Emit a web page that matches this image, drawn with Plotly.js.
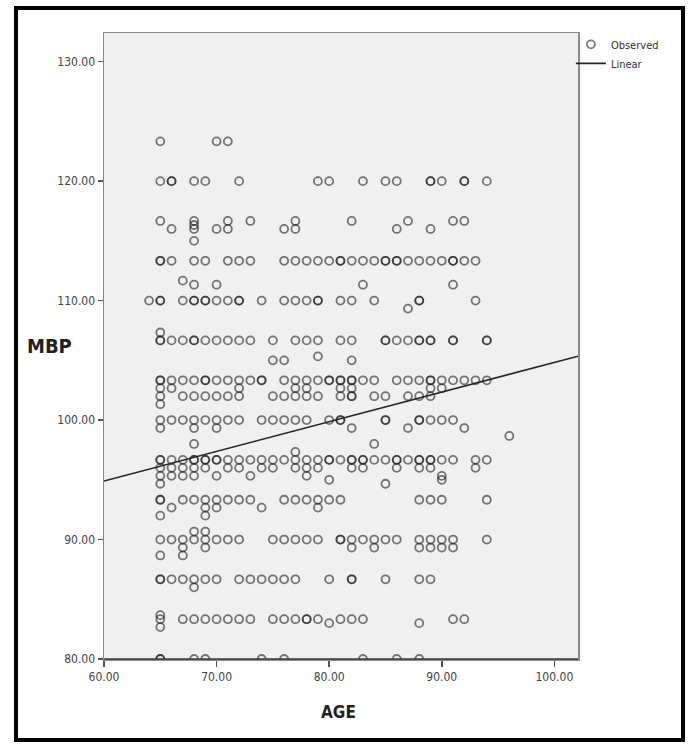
<!DOCTYPE html>
<html>
<head>
<meta charset="utf-8">
<script src="https://cdn.plot.ly/plotly-3.0.1.min.js"></script>
<style>
  html, body { margin: 0; padding: 0; background: #ffffff; }
  #wrap { position: relative; width: 689px; height: 744px; overflow: hidden; background: #ffffff; }
  #frame { position: absolute; left: 14px; top: 6px; width: 663px; height: 728px; border: 4px solid #000; background: #fff; }
  #chart { position: absolute; left: 0; top: 0; width: 689px; height: 744px; }
</style>
</head>
<body>
<div id="wrap">
  <div id="frame"></div>
  <div id="chart"></div>
</div>
<script>
// ---- Observed data: AGE values recorded at each MBP level ----
const ageAt123_33 = [65, 70, 71];
const ageAt120_00 = [65, 66, 66, 68, 69, 72, 79, 80, 83, 85, 86, 89, 89, 90, 92, 92, 94];
const ageAt116_67 = [65, 68, 71, 73, 77, 82, 87, 91, 92];
const ageAt116_33 = [68];
const ageAt116_00 = [66, 68, 70, 71, 76, 77, 86, 89];
const ageAt115_00 = [68];
const ageAt113_33 = [65, 65, 66, 68, 69, 71, 72, 73, 76, 77, 78, 79, 80, 81, 81, 82, 83, 84, 85, 85, 86, 86, 87, 88, 89, 90, 91, 91, 92, 93];
const ageAt111_67 = [67];
const ageAt111_33 = [68, 70, 83, 91];
const ageAt110_00 = [64, 65, 65, 67, 68, 68, 69, 69, 70, 71, 72, 72, 74, 76, 77, 78, 79, 79, 81, 82, 84, 88, 88, 93];
const ageAt109_33 = [87];
const ageAt107_33 = [65];
const ageAt106_67 = [65, 65, 66, 67, 68, 68, 69, 70, 71, 72, 73, 75, 77, 78, 79, 81, 82, 85, 85, 86, 87, 88, 88, 89, 89, 91, 91, 94, 94];
const ageAt105_33 = [79];
const ageAt105_00 = [75, 76, 82];
const ageAt103_33 = [65, 65, 66, 67, 68, 69, 69, 70, 71, 72, 73, 74, 74, 76, 77, 78, 79, 80, 80, 81, 81, 82, 82, 83, 84, 86, 87, 88, 89, 89, 90, 91, 92, 93, 94];
const ageAt102_67 = [65, 66, 72, 77, 78, 81, 82, 89, 90];
const ageAt102_00 = [65, 67, 68, 69, 70, 71, 72, 75, 76, 77, 78, 79, 81, 82, 82, 84, 85, 87, 88, 89];
const ageAt101_33 = [65];
const ageAt100_00 = [65, 66, 67, 68, 69, 70, 71, 72, 74, 75, 76, 77, 78, 80, 81, 81, 85, 85, 88, 88, 89, 90, 91];
const ageAt99_33 = [65, 68, 70, 82, 87, 92];
const ageAt98_67 = [96];
const ageAt98_00 = [68, 84];
const ageAt97_33 = [77];
const ageAt96_67 = [65, 65, 66, 67, 68, 68, 69, 69, 70, 70, 71, 72, 73, 74, 75, 76, 77, 78, 79, 80, 80, 81, 82, 82, 83, 83, 84, 85, 86, 86, 87, 88, 88, 89, 89, 90, 91, 93, 94];
const ageAt96_00 = [65, 66, 67, 68, 69, 71, 72, 74, 75, 77, 78, 79, 82, 83, 86, 88, 89, 93];
const ageAt95_33 = [65, 66, 67, 68, 70, 73, 78, 90];
const ageAt95_00 = [80, 90];
const ageAt94_67 = [65, 85];
const ageAt93_33 = [65, 65, 67, 68, 69, 70, 71, 72, 73, 76, 77, 78, 79, 80, 81, 88, 89, 90, 94];
const ageAt92_67 = [66, 69, 70, 74, 79];
const ageAt92_00 = [65, 69];
const ageAt90_67 = [68, 69];
const ageAt90_00 = [65, 66, 67, 68, 69, 70, 71, 72, 75, 76, 77, 78, 79, 81, 81, 82, 83, 84, 85, 86, 88, 89, 90, 91, 94];
const ageAt89_33 = [67, 69, 82, 84, 88, 89, 90, 91];
const ageAt88_67 = [65, 67];
const ageAt86_67 = [65, 65, 66, 67, 68, 69, 70, 72, 73, 74, 75, 76, 77, 80, 82, 82, 85, 88, 89];
const ageAt86_00 = [68];
const ageAt83_67 = [65];
const ageAt83_33 = [65, 67, 68, 69, 70, 71, 72, 73, 75, 76, 77, 78, 78, 79, 81, 82, 83, 91, 92];
const ageAt83_00 = [80, 88];
const ageAt82_67 = [65];
const ageAt80_00 = [65, 65, 68, 69, 74, 76, 83, 86, 88];

// ---- Linear fit line (end points) ----
const fitAge = [60, 102.1];
const fitMBP = [94.9, 105.35];

// ---- Axis ticks ----
const xTicks = [60, 70, 80, 90, 100];
const yTicks = [80, 90, 100, 110, 120, 130];

// table built from the arrays above
const levelTable = [
  [123.33, ageAt123_33], [120.00, ageAt120_00], [116.67, ageAt116_67], [116.33, ageAt116_33],
  [116.00, ageAt116_00], [115.00, ageAt115_00], [113.33, ageAt113_33], [111.67, ageAt111_67],
  [111.33, ageAt111_33], [110.00, ageAt110_00], [109.33, ageAt109_33], [107.33, ageAt107_33],
  [106.67, ageAt106_67], [105.33, ageAt105_33], [105.00, ageAt105_00], [103.33, ageAt103_33],
  [102.67, ageAt102_67], [102.00, ageAt102_00], [101.33, ageAt101_33], [100.00, ageAt100_00],
  [99.33, ageAt99_33], [98.67, ageAt98_67], [98.00, ageAt98_00], [97.33, ageAt97_33],
  [96.67, ageAt96_67], [96.00, ageAt96_00], [95.33, ageAt95_33], [95.00, ageAt95_00],
  [94.67, ageAt94_67], [93.33, ageAt93_33], [92.67, ageAt92_67], [92.00, ageAt92_00],
  [90.67, ageAt90_67], [90.00, ageAt90_00], [89.33, ageAt89_33], [88.67, ageAt88_67],
  [86.67, ageAt86_67], [86.00, ageAt86_00], [83.67, ageAt83_67], [83.33, ageAt83_33],
  [83.00, ageAt83_00], [82.67, ageAt82_67], [80.00, ageAt80_00]
];
const obsAge = [], obsMBP = [];
levelTable.forEach(function (row) {
  row[1].forEach(function (a) { obsAge.push(a); obsMBP.push(row[0]); });
});

const FONT = '"Liberation Sans Narrow", "Arial Narrow", "DejaVu Sans Condensed", "Liberation Sans", sans-serif';

const traces = [
  {
    x: obsAge, y: obsMBP, type: 'scatter', mode: 'markers', name: 'Observed',
    marker: { symbol: 'circle-open', size: 8, color: 'rgba(25,25,25,0.58)', line: { width: 1.8 } },
    cliponaxis: true, hoverinfo: 'x+y'
  },
  {
    x: fitAge, y: fitMBP, type: 'scatter', mode: 'lines', name: 'Linear',
    line: { color: '#262626', width: 1.6 }
  }
];

const layout = {
  width: 689, height: 744,
  paper_bgcolor: 'rgba(0,0,0,0)',
  plot_bgcolor: '#f0f0f0',
  margin: { l: 104, r: 111, t: 33, b: 85, pad: 0 },
  showlegend: true,
  legend: {
    x: 0.985, y: 1.005, xanchor: 'left', yanchor: 'top',
    bgcolor: 'rgba(0,0,0,0)', borderwidth: 0,
    font: { family: FONT, size: 11, color: '#333' },
    itemwidth: 30, tracegroupgap: 0
  },
  xaxis: {
    range: [60, 102.1], tickvals: xTicks, tickformat: '.2f',
    showgrid: false, zeroline: false,
    showline: true, linecolor: '#8a8a8a', linewidth: 1.5, mirror: true,
    ticks: 'outside', ticklen: 6, tickwidth: 1.5, tickcolor: '#555',
    tickfont: { family: FONT, size: 12, color: '#444' }
  },
  yaxis: {
    range: [80, 132.4], tickvals: yTicks, tickformat: '.2f',
    showgrid: false, zeroline: false,
    showline: true, linecolor: '#8a8a8a', linewidth: 1.5, mirror: true,
    ticks: 'outside', ticklen: 5, tickwidth: 1.5, tickcolor: '#555',
    tickfont: { family: FONT, size: 12, color: '#444' }
  },
  shapes: [
    { type: 'line', xref: 'paper', yref: 'paper', x0: 0, x1: 1, y0: 0, y1: 0,
      line: { color: '#3a3a3a', width: 1.6 } }
  ],
  annotations: [
    { text: '<b>MBP</b>', xref: 'paper', yref: 'paper', x: -0.115, y: 0.5, xanchor: 'center', yanchor: 'middle',
      showarrow: false, font: { family: FONT, size: 20, color: '#222' } },
    { text: '<b>AGE</b>', xref: 'paper', yref: 'paper', x: 0.495, y: -0.085, xanchor: 'center', yanchor: 'middle',
      showarrow: false, font: { family: FONT, size: 17, color: '#222' } }
  ]
};

Plotly.newPlot('chart', traces, layout, { staticPlot: true, displayModeBar: false });
</script>
</body>
</html>
